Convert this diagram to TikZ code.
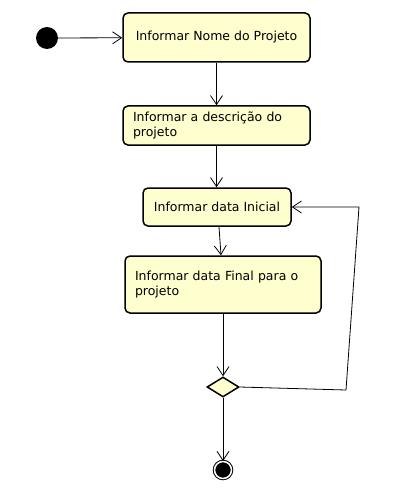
\documentclass[tikz,border=0pt]{standalone}
\usepackage{fontspec}
\setmainfont{DejaVu Sans}
\usetikzlibrary{arrows.meta,shapes.geometric}
\definecolor{actfill}{RGB}{254, 254, 206}

\tikzset{
  act/.style={rounded corners=5pt, fill=actfill, draw=black, line width=1.5pt, inner sep=0pt, font=\fontsize{12.5}{15}\selectfont},
  flow/.style={line width=0.8pt, -{Straight Barb[length=9pt, width=12pt, line width=0.8pt]}},
}

\begin{document}
\begin{tikzpicture}
\useasboundingbox (0pt, 0pt) rectangle (416pt, -500pt);
% start and activities
\node (start) [circle, minimum size=22pt, inner sep=0pt, fill=black] at (47pt, -38pt) {};
\node (nome) [act, minimum width=187pt, minimum height=49pt] at (216.5pt, -37.5pt) {Informar Nome do Projeto};
\node (descr) [act, minimum width=187pt, minimum height=39pt, text width=167pt, align=left] at (216.5pt, -125.5pt) {Informar a descrição do\\projeto};
\node (inicio) [act, minimum width=148pt, minimum height=38pt] at (217pt, -207pt) {Informar data Inicial};
\node (fim) [act, minimum width=196pt, minimum height=57pt, text width=176pt, align=left] at (223pt, -284.5pt) {Informar data Final para o\\projeto};
% decision and end
\node (dec) [diamond, aspect=1.6, minimum width=32pt, minimum height=20pt, inner sep=0pt, fill=actfill, draw=black, line width=1.5pt] at (223pt, -387pt) {};
\node (stop) [circle, minimum size=17pt, inner sep=0pt, fill=black, draw=black, line width=1pt, double=white, double distance=1.5pt] at (223pt, -470pt) {};
\coordinate (c1) at (346pt, -390pt);
\coordinate (c2) at (359pt, -207pt);
% flows
\draw [flow] (start) -- (nome);
\draw [flow] (nome) -- (descr);
\draw [flow] (descr.south) -- (descr.south |- inicio.north);
\draw [flow] ([xshift=2pt]inicio.south) -- ([xshift=-2pt]fim.north);
\draw [flow] (fim) -- (dec);
\draw [flow] (dec.east) -- (c1) -- (c2) -- (inicio.east);
\draw [flow] (dec) -- (stop);
\end{tikzpicture}
\end{document}
